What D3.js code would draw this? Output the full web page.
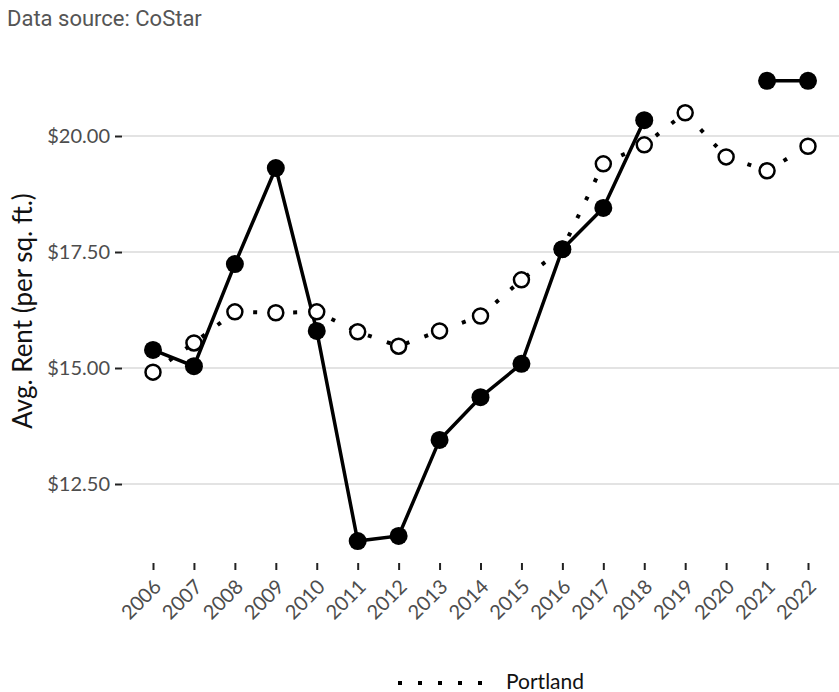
<!DOCTYPE html>
<html lang="en">
<head>
<meta charset="UTF-8">
<title>Avg. Rent</title>
<script src="https://cdnjs.cloudflare.com/ajax/libs/d3/7.8.5/d3.min.js"></script>
<style>
    body { margin: 0; background: #fff; }
    .source { font-family: Roboto, "Open Sans", sans-serif; font-size: 22px; fill: #555; }
    .tick text { font-family: Lato, sans-serif; font-size: 20px; fill: #4d4d4d; }
    .ytitle { font-family: Lato, sans-serif; font-size: 26px; fill: #111; }
    .legend text { font-family: Lato, sans-serif; font-size: 21px; fill: #111; }
</style>
</head>
<body>
<div id="chart"></div>
<script>
const years = [2006, 2007, 2008, 2009, 2010, 2011, 2012, 2013, 2014, 2015, 2016, 2017, 2018, 2019, 2020, 2021, 2022];
// solid series (no legend entry in the original), gaps in 2019-2020
const otherRent = [15.39, 15.04, 17.24, 19.31, 15.80, 11.27, 11.38, 13.45, 14.37, 15.09, 17.56, 18.45, 20.34, null, null, 21.19, 21.19];
const portlandRent = [14.91, 15.54, 16.21, 16.19, 16.21, 15.78, 15.47, 15.80, 16.12, 16.90, 17.56, 19.40, 19.81, 20.50, 19.55, 19.25, 19.78];
const yTicks = [12.5, 15, 17.5, 20];

const W = 839, H = 692;
const svg = d3.select("#chart").append("svg").attr("width", W).attr("height", H);

const x = d3.scalePoint().domain(years).range([153, 808]);
const y = d3.scaleLinear().domain([12.5, 20]).range([484, 136]);

svg.append("text").attr("class", "source").attr("x", 7).attr("y", 26).text("Data source: CoStar");

// grid
svg.append("g").selectAll("line").data(yTicks).enter().append("line")
    .attr("x1", 122).attr("x2", W)
    .attr("y1", d => y(d)).attr("y2", d => y(d))
    .attr("stroke", "#e3e3e3").attr("stroke-width", 2);

const yAxis = svg.append("g").attr("transform", "translate(122,0)")
    .call(d3.axisLeft(y).tickValues(yTicks).tickFormat(d => "$" + d.toFixed(2)).tickSize(7).tickPadding(5));
yAxis.select(".domain").remove();
yAxis.selectAll(".tick line").attr("stroke", "#222").attr("stroke-width", 2);

const xAxis = svg.append("g").attr("transform", "translate(0,563)")
    .call(d3.axisBottom(x).tickSize(7));
xAxis.select(".domain").remove();
xAxis.selectAll(".tick line").attr("stroke", "#222").attr("stroke-width", 2);
xAxis.selectAll(".tick text")
    .attr("x", 0).attr("y", 0).attr("dy", 0)
    .attr("text-anchor", "end")
    .attr("transform", "translate(9,25) rotate(-45)");

svg.append("text").attr("class", "ytitle")
    .attr("transform", "translate(32,311) rotate(-90)")
    .attr("text-anchor", "middle")
    .text("Avg. Rent (per sq. ft.)");

const line = d3.line()
    .defined(d => d[1] != null)
    .x(d => x(d[0])).y(d => y(d[1]));

const portland = years.map((yr, i) => [yr, portlandRent[i]]);
const other = years.map((yr, i) => [yr, otherRent[i]]);

svg.append("path").datum(portland)
    .attr("d", line).attr("fill", "none")
    .attr("stroke", "#000").attr("stroke-width", 4)
    .attr("stroke-dasharray", "4,16");

svg.append("path").datum(other)
    .attr("d", line).attr("fill", "none")
    .attr("stroke", "#000").attr("stroke-width", 3.5);

svg.append("g").selectAll("circle").data(portland).enter().append("circle")
    .attr("cx", d => x(d[0])).attr("cy", d => y(d[1])).attr("r", 7.5)
    .attr("fill", "#fff").attr("stroke", "#000").attr("stroke-width", 2.5);

svg.append("g").selectAll("circle").data(other.filter(d => d[1] != null)).enter().append("circle")
    .attr("cx", d => x(d[0])).attr("cy", d => y(d[1])).attr("r", 9)
    .attr("fill", "#000");

// legend
const legend = svg.append("g").attr("class", "legend");
legend.append("line")
    .attr("x1", 398).attr("x2", 482).attr("y1", 683).attr("y2", 683)
    .attr("stroke", "#000").attr("stroke-width", 4).attr("stroke-dasharray", "4,16");
legend.append("text").attr("x", 506).attr("y", 689).text("Portland");
</script>
</body>
</html>
